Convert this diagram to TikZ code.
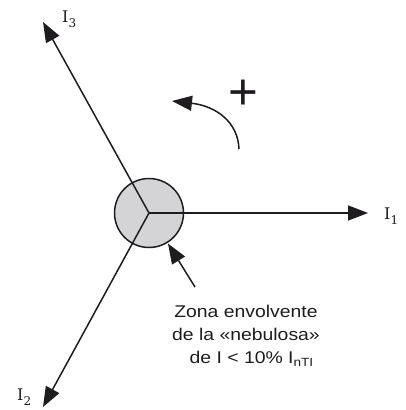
\documentclass[tikz,border=0pt]{standalone}
\usepackage{fontspec}
\newfontfamily\labelsans{Liberation Sans}
\newfontfamily\labelserif{DejaVu Serif}
\usetikzlibrary{arrows.meta}
\definecolor{zonegray}{RGB}{212,212,214}
\definecolor{ink}{RGB}{30,28,30}
\tikzset{
  vec/.style={draw=ink, line width=1.5pt, -{Triangle[length=20pt,width=15pt]}},
  ilabel/.style={inner sep=0pt, anchor=base west, font=\labelserif\fontsize{16}{18}\selectfont, text=ink},
  sanstext/.style={inner sep=0pt, font=\labelsans\fontsize{17}{23}\selectfont, text=ink, align=center, xscale=1.14}
}
\newcommand{\isub}[1]{I\raisebox{-5pt}{\fontsize{12}{12}\selectfont #1}}
\begin{document}
\begin{tikzpicture}[x=1pt,y=-1pt]
\useasboundingbox (0,0) rectangle (406,410);
% zone circle
\node[circle, draw=ink, line width=1.5pt, fill=zonegray, minimum size=69pt, inner sep=0pt, outer sep=1.5pt] (c) at (149,213) {};
% tips
\coordinate (t1) at (368,213);
\coordinate (t2) at (43,407);
\coordinate (t3) at (43,22);
\draw[vec] (c.center) -- (t1);
\draw[vec] (c.center) -- (t2);
\draw[vec] (c.center) -- (t3);
% labels
\node[ilabel] (l1) at (384,219) {\isub{1}};
\node[ilabel] (l2) at (17,400) {\isub{2}};
\node[ilabel] (l3) at (62,22) {\isub{3}};
% rotation sense
\node[inner sep=0pt, anchor=base, font=\labelsans\fontsize{51}{51}\selectfont, text=ink] (plus) at (243,109) {+};
\coordinate (rs) at (239,149);
\coordinate (re) at (172,101);
\draw[vec] (rs) .. controls (238,122) and (216,106) .. (re);
% zone note
\node[sanstext, anchor=north] (note) at (246,305) {Zona envolvente\\de la «nebulosa»\\\hspace*{10pt}de I < 10\% I\textsubscript{nTI}};
\coordinate (p) at (195,287);
\draw[vec] (p) -- (c);
\end{tikzpicture}
\end{document}
